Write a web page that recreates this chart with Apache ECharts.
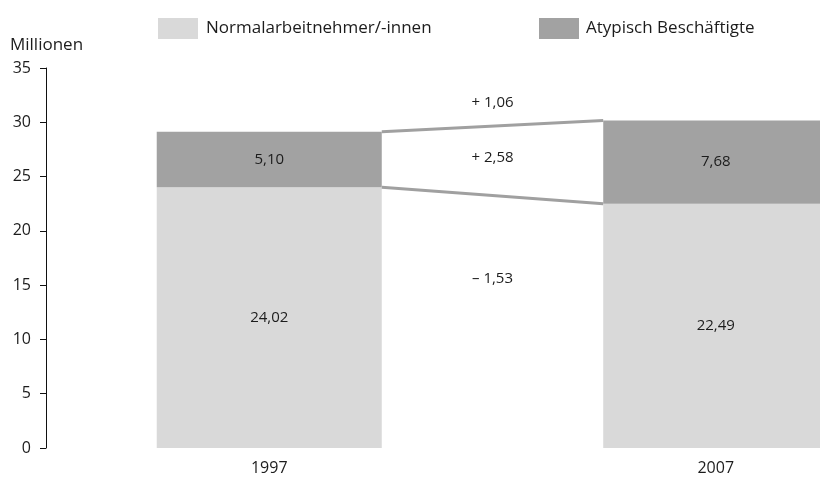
<!DOCTYPE html>
<html>
<head>
<meta charset="utf-8">
<script src="https://cdn.jsdelivr.net/npm/echarts@6/dist/echarts.min.js"></script>
<style>
  html, body { margin: 0; padding: 0; background: #fff; }
  #chart { width: 820px; height: 481px; }
</style>
</head>
<body>
<div id="chart"></div>
<script>
// Erwerbstätige 1997 / 2007 in Millionen
const years = ['1997', '2007']
const normalName = 'Normalarbeitnehmer/-innen'
const atypName = 'Atypisch Beschäftigte'
const normalValues = [24.02, 22.49]
const atypValues = [5.10, 7.68]
const diffLabels = ['+ 1,06', '+ 2,58', '\u2013 1,53']
const diffLevels = [31.8, 26.7, 15.6]

const FONT = 'Open Sans'
const TEXT = '#1c1c1c'
const BAR_RATIO = 0.504

const fmt = v => v.toFixed(2).replace('.', ',')
const totals = normalValues.map((v, i) => v + atypValues[i])

const chart = echarts.init(document.getElementById('chart'))

chart.setOption({
  animation: false,
  textStyle: { fontFamily: FONT, color: TEXT },
  legend: [
    {
      data: [normalName], left: 153, top: 13,
      itemWidth: 40, itemHeight: 21, icon: 'rect',
      textStyle: { fontFamily: FONT, fontSize: 17, color: TEXT, padding: [0, 0, 0, 3] }
    },
    {
      data: [atypName], left: 534, top: 13,
      itemWidth: 40, itemHeight: 21, icon: 'rect',
      textStyle: { fontFamily: FONT, fontSize: 17, color: TEXT, padding: [0, 0, 0, 2] }
    }
  ],
  grid: { left: 46, width: 893, top: 68, bottom: 33, containLabel: false, outerBoundsMode: 'none' },
  xAxis: {
    type: 'category',
    data: years,
    axisLine: { show: false },
    axisTick: { show: false },
    axisLabel: { fontSize: 16, color: TEXT, margin: 12, fontFamily: FONT }
  },
  yAxis: {
    type: 'value',
    min: 0, max: 35, interval: 5,
    name: 'Millionen',
    nameLocation: 'end',
    nameGap: 14,
    nameTextStyle: { fontSize: 17, color: TEXT, align: 'left', padding: [0, 0, 0, -36], fontFamily: FONT },
    axisLine: { show: true, lineStyle: { color: '#111', width: 1 } },
    axisTick: { show: true, length: 6, lineStyle: { color: '#111' } },
    axisLabel: { fontSize: 16, color: TEXT, margin: 15, fontFamily: FONT },
    splitLine: { show: false }
  },
  series: [
    {
      name: normalName,
      type: 'bar',
      stack: 'total',
      barWidth: (BAR_RATIO * 100) + '%',
      itemStyle: { color: '#d9d9d9' },
      label: { show: true, position: 'inside', fontSize: 15, color: TEXT, formatter: p => fmt(p.value) },
      data: normalValues
    },
    {
      name: atypName,
      type: 'bar',
      stack: 'total',
      barWidth: (BAR_RATIO * 100) + '%',
      itemStyle: { color: '#a2a2a2' },
      label: { show: true, position: 'inside', fontSize: 15, color: TEXT, formatter: p => fmt(p.value) },
      data: atypValues
    },
    {
      // Verbindungslinien zwischen den Balken
      type: 'custom',
      silent: true,
      encode: { x: 0, y: [1, 2] },
      data: [
        [0, totals[0], totals[1]],
        [0, normalValues[0], normalValues[1]]
      ],
      renderItem(params, api) {
        const half = api.size([1, 0])[0] * BAR_RATIO / 2
        const p0 = api.coord([0, api.value(1)])
        const p1 = api.coord([1, api.value(2)])
        return {
          type: 'line',
          shape: { x1: p0[0] + half, y1: p0[1], x2: p1[0] - half, y2: p1[1] },
          style: { stroke: '#a0a0a0', lineWidth: 3 }
        }
      },
      z: 3
    },
    {
      // Veränderungen
      type: 'custom',
      silent: true,
      encode: { x: 0, y: 1 },
      data: diffLevels.map((v, i) => [0, v, i]),
      renderItem(params, api) {
        const a = api.coord([0, api.value(1)])
        const b = api.coord([1, api.value(1)])
        return {
          type: 'text',
          x: (a[0] + b[0]) / 2,
          y: a[1],
          style: {
            text: diffLabels[api.value(2)],
            fontFamily: FONT, fontSize: 15, fill: TEXT,
            align: 'center', verticalAlign: 'middle'
          }
        }
      },
      z: 4
    }
  ]
})
</script>
</body>
</html>
